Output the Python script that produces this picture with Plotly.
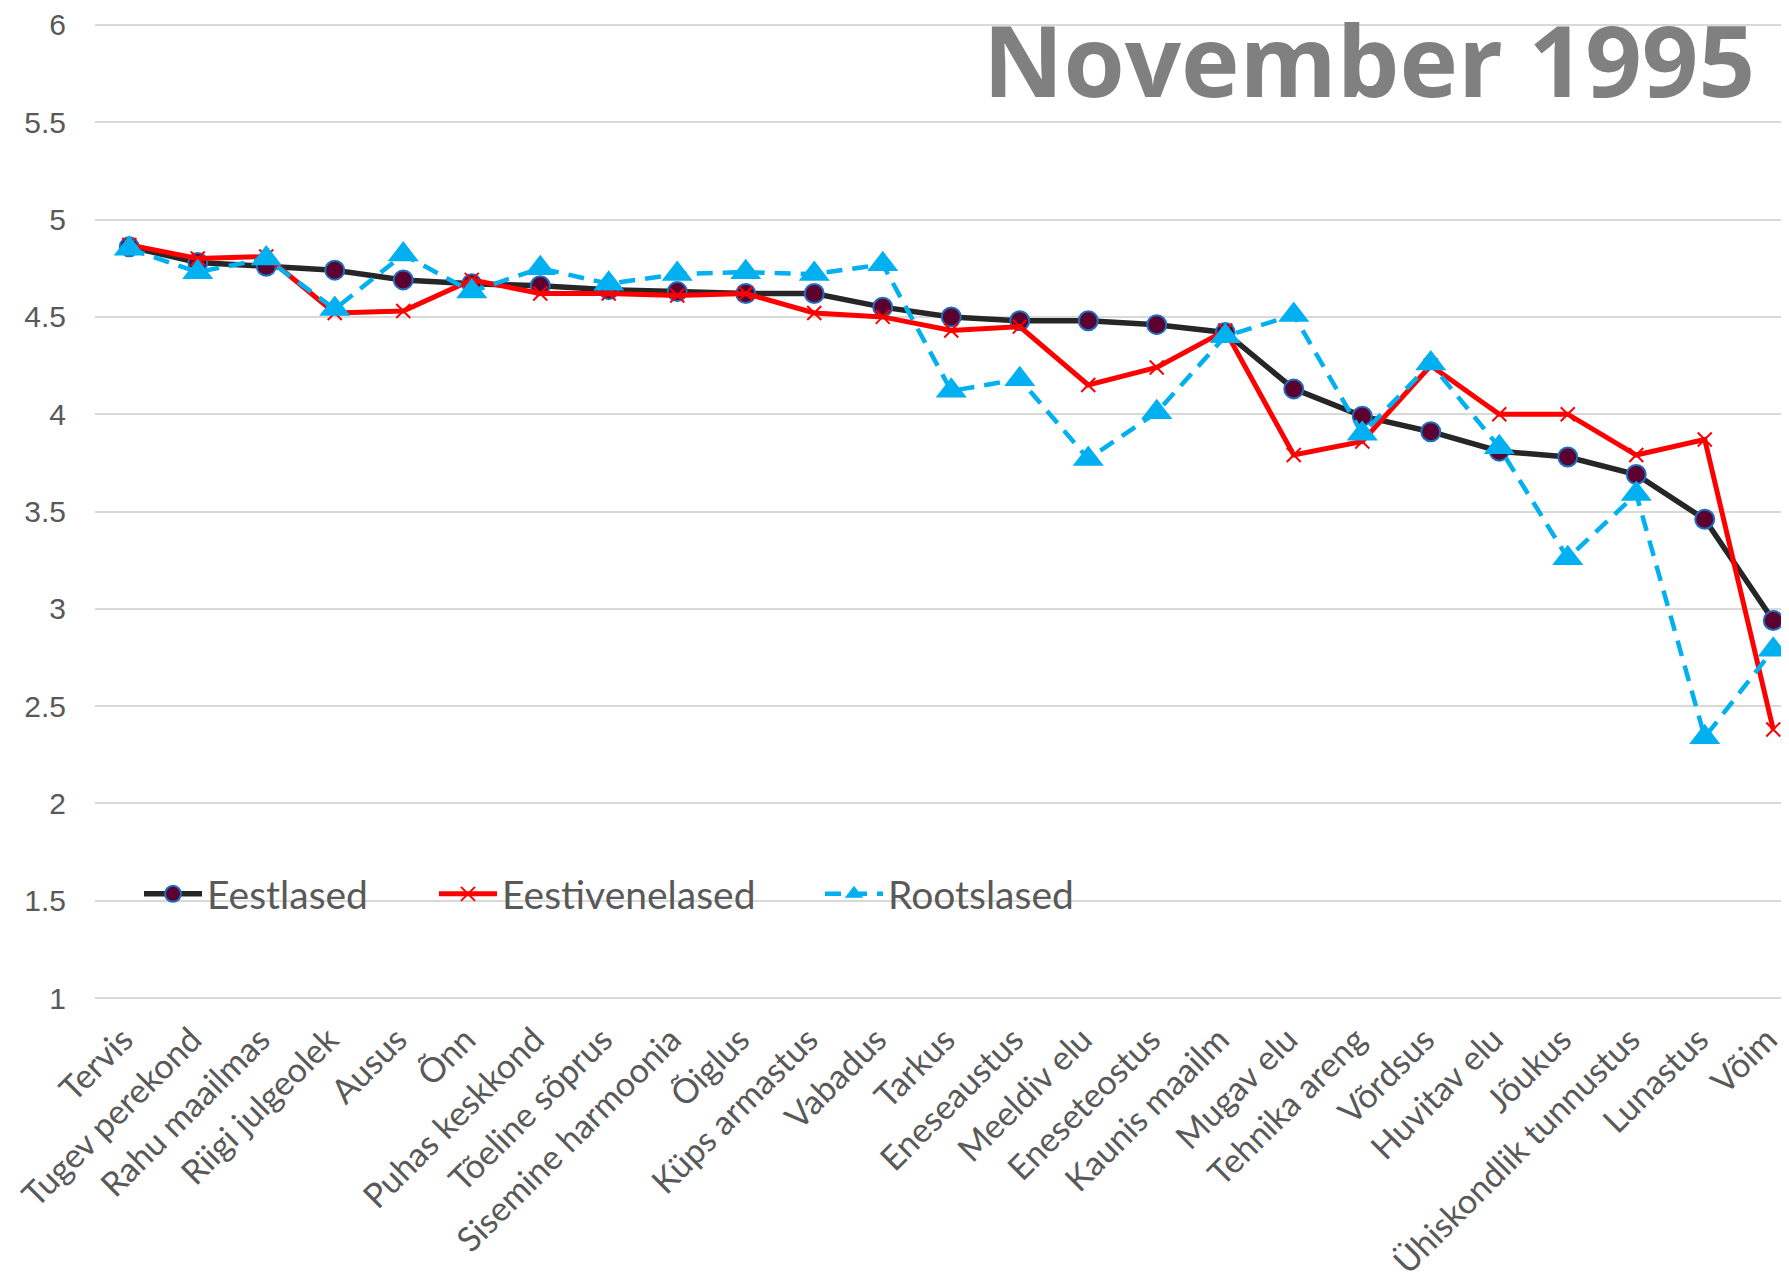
import plotly.graph_objects as go

categories = ["Tervis", "Tugev perekond", "Rahu maailmas", "Riigi julgeolek", "Ausus", "Õnn",
              "Puhas keskkond", "Tõeline sõprus", "Sisemine harmoonia", "Õiglus", "Küps armastus",
              "Vabadus", "Tarkus", "Eneseaustus", "Meeldiv elu", "Eneseteostus", "Kaunis maailm",
              "Mugav elu", "Tehnika areng", "Võrdsus", "Huvitav elu", "Jõukus",
              "Ühiskondlik tunnustus", "Lunastus", "Võim"]

eestlased = [4.86, 4.78, 4.76, 4.74, 4.69, 4.67, 4.66, 4.64, 4.63, 4.62, 4.62, 4.55, 4.50,
             4.48, 4.48, 4.46, 4.42, 4.13, 3.99, 3.91, 3.81, 3.78, 3.69, 3.46, 2.94]
eestivenelased = [4.87, 4.80, 4.81, 4.52, 4.53, 4.69, 4.62, 4.62, 4.61, 4.62, 4.52, 4.50, 4.43,
                  4.45, 4.15, 4.24, 4.43, 3.79, 3.86, 4.25, 4.00, 4.00, 3.79, 3.87, 2.38]
rootslased = [4.85, 4.73, 4.80, 4.54, 4.82, 4.63, 4.75, 4.67, 4.72, 4.73, 4.72, 4.77, 4.12,
              4.18, 3.77, 4.01, 4.40, 4.51, 3.90, 4.26, 3.83, 3.26, 3.59, 2.34, 2.79]

y_ticks = [1, 1.5, 2, 2.5, 3, 3.5, 4, 4.5, 5, 5.5, 6]
y_tick_labels = ["1", "1.5", "2", "2.5", "3", "3.5", "4", "4.5", "5", "5.5", "6"]

title_text = "November 1995"

# page body has an 8px margin; the figure is sized to fit inside the window
OFF = 8
W, H = 1789 - OFF, 1282 - OFF
ML, MR, MT, MB = 95 - OFF, 0, 25 - OFF - 1, 284 - 1
PW = W - ML - MR
PH = H - MT - MB
Y0, Y1 = 0.995, 6.005
GRID = "#D9D9D9"


def px_x(p):
    """page x pixel -> paper x"""
    return (p - OFF - ML) / PW


def px_y(p):
    """page y pixel -> paper y"""
    return (H - MB - (p - OFF)) / PH


fig = go.Figure()

fig.add_trace(go.Scatter(
    x=categories, y=eestlased, name="Eestlased", mode="lines+markers",
    line=dict(color="#262626", width=5.5),
    marker=dict(symbol="circle", size=19, color="#5C0030",
                line=dict(color="#1F6FC0", width=2)),
    legend="legend",
))
fig.add_trace(go.Scatter(
    x=categories, y=eestivenelased, name="Eestivenelased", mode="lines+markers",
    line=dict(color="#FF0000", width=5),
    marker=dict(symbol="x-thin", size=14, color="#FF0000",
                line=dict(color="#FF0000", width=2)),
    legend="legend2",
))
fig.add_trace(go.Scatter(
    x=categories, y=rootslased, name="Rootslased", mode="lines+markers",
    line=dict(color="#00B0F0", width=4.5, dash="16px,10px"),
    marker=dict(symbol="triangle-up", size=27, color="#00B0F0"),
    legend="legend3",
))

legend_font = dict(family="Lato, Open Sans, sans-serif", size=39, color="#595959")
common_leg = dict(orientation="h", yanchor="middle", y=px_y(894), xanchor="left",
                  font=legend_font, bgcolor="rgba(0,0,0,0)", itemwidth=58)

# edge gridlines (at 1 and 6) that plotly omits at the axis ends
edge_lines = [dict(type="line", xref="paper", yref="y", x0=0, x1=1, y0=v, y1=v,
                   line=dict(color=GRID, width=2), layer="below")
              for v in (y_ticks[0], y_ticks[-1])]

fig.update_layout(
    width=W, height=H,
    margin=dict(l=ML, r=MR, t=MT, b=MB, pad=0, autoexpand=False),
    paper_bgcolor="white", plot_bgcolor="white",
    showlegend=True,
    legend=dict(x=px_x(139), **common_leg),
    legend2=dict(x=px_x(434), **common_leg),
    legend3=dict(x=px_x(820), **common_leg),
    xaxis=dict(
        type="category", range=[-0.5, 24.23], automargin=False,
        showgrid=False, showline=False, zeroline=False, ticks="",
        tickangle=-45,
        tickfont=dict(family="Lato, Open Sans, sans-serif", size=34, color="#595959"),
        ticklabelstandoff=13, ticklabelshift=-6,
    ),
    yaxis=dict(
        range=[Y0, Y1], tickvals=y_ticks, ticktext=y_tick_labels, automargin=False,
        showgrid=True, gridcolor=GRID, gridwidth=2,
        zeroline=False, showline=False, ticks="",
        tickfont=dict(family="Liberation Sans, Arial, sans-serif", size=30, color="#595959"),
        ticklabelstandoff=28,
    ),
    shapes=edge_lines,
    annotations=[dict(
        text=title_text, xref="paper", yref="paper",
        x=px_x(1757), y=px_y(58), xanchor="right", yanchor="middle",
        showarrow=False,
        font=dict(family="Open Sans, Lato, sans-serif", size=99, color="#808080", weight="bold"),
    )],
)

fig.write_html("out.html")
